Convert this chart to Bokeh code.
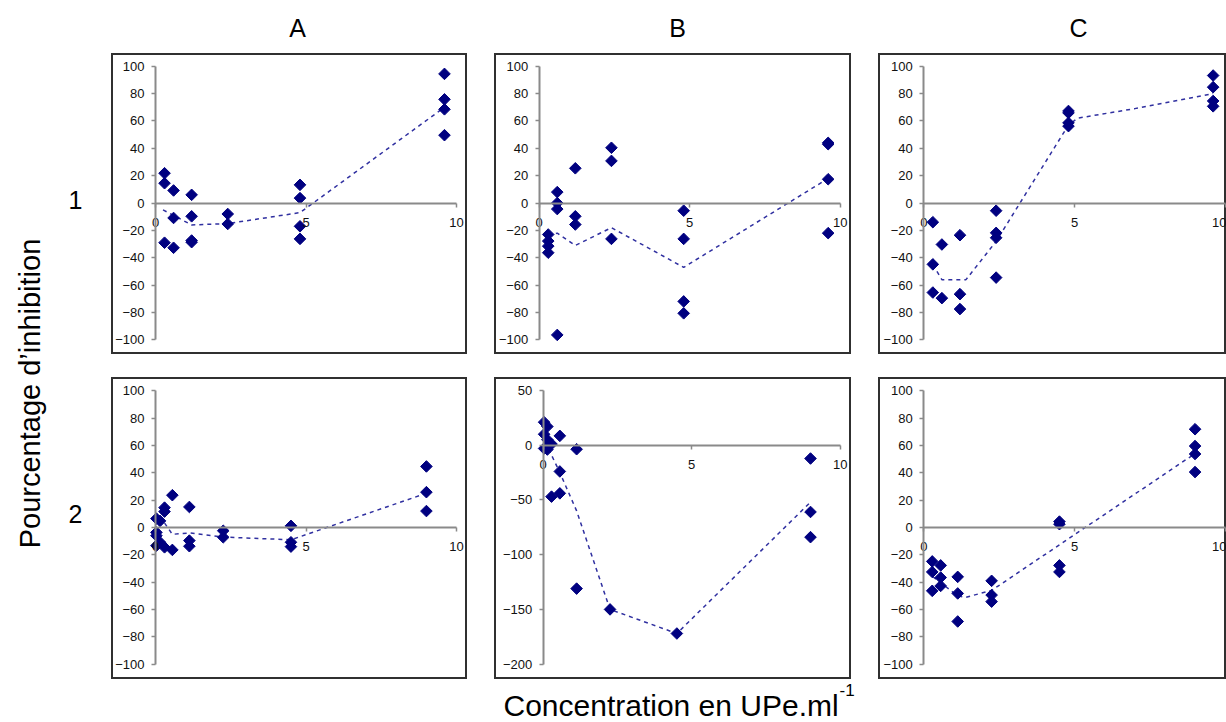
import numpy as np
from bokeh.plotting import figure
from bokeh.layouts import row, column
from bokeh.models import Range1d, FixedTicker, Label, Spacer
from bokeh.embed import file_html
from bokeh.resources import INLINE

FONT = "Liberation Sans"

# ---------------- texts / ticks ----------------
col_titles = ["A", "B", "C"]
row_titles = ["1", "2"]
y_title = "Pourcentage d\u2019inhibition"
x_title = "Concentration en UPe.ml"
x_title_sup = "-1"
x_ticks = [0, 5, 10]
y_ticks_std = [-100, -80, -60, -40, -20, 0, 20, 40, 60, 80, 100]
y_ticks_b2 = [-200, -150, -100, -50, 0, 50]

# ---------------- data ----------------
# Row 1
A1_conc = [0.3, 0.3, 0.3, 0.6, 0.6, 0.6, 1.2, 1.2, 1.2, 1.2, 2.4, 2.4,
           4.8, 4.8, 4.8, 4.8, 9.6, 9.6, 9.6, 9.6]
A1_inhib = [21.8, 14.5, -29, 9.2, -10.9, -32.7, 6, -9.7, -27.4, -28.6, -8, -15.3,
            13.3, 3.6, -17, -26.2, 94.4, 75.8, 68.5, 49.6]
A1_trend_x = [0.25, 1.2, 2.4, 4.8, 9.6]
A1_trend_y = [-5, -16, -15, -7, 70]

B1_conc = [0.3, 0.3, 0.3, 0.3, 0.6, 0.6, 0.6, 0.6, 1.2, 1.2, 1.2, 2.4, 2.4, 2.4,
           4.8, 4.8, 4.8, 4.8, 9.6, 9.6, 9.6, 9.6]
B1_inhib = [-23, -27.8, -31.5, -36.3, 8, 0, -4.4, -96.4, 25.4, -9.7, -15.7, 40.4, 30.8, -26.2,
            -5.6, -26.2, -71.9, -80.6, 44, 43, 17.4, -22]
B1_trend_x = [0.3, 0.6, 1.2, 2.4, 4.8, 9.6]
B1_trend_y = [-24, -22, -31, -18, -47, 18]

C1_conc = [0.3, 0.3, 0.3, 0.6, 0.6, 1.2, 1.2, 1.2, 2.4, 2.4, 2.4, 2.4,
           4.8, 4.8, 4.8, 4.8, 9.6, 9.6, 9.6, 9.6]
C1_inhib = [-14, -44.8, -65.4, -30.3, -69.5, -23.5, -66.6, -77.5, -5.6, -21.8, -25.4, -54.5,
            67.3, 65.9, 58.6, 56.2, 93.2, 84.7, 74.6, 70.7]
C1_trend_x = [0.3, 0.6, 1.4, 2.4, 4.8, 5.1, 7.0, 9.6]
C1_trend_y = [-45, -56, -56, -28, 57, 62, 69, 80]

# Row 2
A2_conc = [0.03, 0.03, 0.03, 0.03, 0.15, 0.15, 0.3, 0.3, 0.3, 0.56, 0.56,
           1.125, 1.125, 1.125, 2.25, 2.25, 4.5, 4.5, 4.5, 9, 9, 9]
A2_inhib = [6.5, -3.6, -6, -13.3, 4.8, -10.8, 14.5, 11.6, -14.5, 23.6, -16.4,
            15, -9.6, -13.7, -2.4, -7.2, 1.2, -10.8, -14, 44.6, 25.8, 12]
A2_trend_x = [0.15, 0.56, 1.125, 2.25, 4.5, 9]
A2_trend_y = [8, -5, -4, -7, -9, 25]

B2_conc = [0.03, 0.03, 0.03, 0.14, 0.14, 0.14, 0.28, 0.28, 0.56, 0.56, 0.56,
           1.125, 1.125, 2.25, 4.5, 9, 9, 9]
B2_inhib = [21, 10, -3, 17, 5, -4, 1, -47, 8.5, -24, -44,
            -3.7, -131, -150, -172, -12.2, -61, -84]
B2_trend_x = [0.07, 0.56, 1.125, 2.25, 4.5, 9]
B2_trend_y = [3, -25, -60, -150, -172, -52]

C2_conc = [0.28, 0.28, 0.28, 0.56, 0.56, 0.56, 1.125, 1.125, 1.125, 2.25, 2.25, 2.25,
           4.5, 4.5, 4.5, 4.5, 9, 9, 9, 9]
C2_inhib = [-24.8, -32.5, -46.3, -27.7, -36.6, -42.7, -36.1, -48.2, -68.7, -39, -49.4, -54.2,
            4.3, 2.4, -27.7, -32.5, 71.8, 59.5, 53.7, 40.5]
C2_trend_x = [0.3, 1.125, 1.4, 2.25, 9]
C2_trend_y = [-36, -50, -51, -46, 54]

MARK = "#000080"
TREND = "#3030a0"
AXIS = "#8a8a8a"
BOX = "#303030"


def panel(xs, ys, tx, ty, xr, yr, w, h, yticks, ybounds):
    p = figure(width=w, height=h, x_range=Range1d(*xr), y_range=Range1d(*yr),
               output_backend="svg", toolbar_location=None, title=None, min_border=0)
    p.grid.visible = False
    p.background_fill_color = "white"
    p.border_fill_color = "white"
    p.outline_line_color = BOX
    p.outline_line_width = 3
    p.line(tx, ty, line_color=TREND, line_width=1.5, line_dash="4 4")
    p.scatter(xs, ys, marker="square", angle=np.pi / 4, size=8.2,
              fill_color=MARK, line_color=MARK, line_width=1)
    xa = p.xaxis[0]
    ya = p.yaxis[0]
    xa.fixed_location = 0
    ya.fixed_location = 0
    xa.ticker = FixedTicker(ticks=x_ticks)
    ya.ticker = FixedTicker(ticks=yticks)
    xa.bounds = (0, 10)
    ya.bounds = ybounds
    for a in (xa, ya):
        a.axis_line_color = AXIS
        a.axis_line_width = 2
        a.major_tick_line_color = AXIS
        a.major_tick_line_width = 1.5
        a.major_tick_out = 4
        a.major_tick_in = 0
        a.minor_tick_line_color = None
        a.major_label_text_font = FONT
        a.major_label_text_font_size = "13px"
        a.major_label_text_color = "#111111"
    xa.major_label_standoff = 11
    ya.major_label_standoff = 7
    return p


def blank(w, h):
    p = figure(width=w, height=h, x_range=Range1d(0, w), y_range=Range1d(0, h),
               output_backend="svg", toolbar_location=None, title=None, min_border=0,
               x_axis_type=None, y_axis_type=None)
    p.grid.visible = False
    p.outline_line_color = None
    p.background_fill_color = "white"
    p.border_fill_color = "white"
    return p


XR_A = (-1.462, 10.365)
XR_B1 = (-1.485, 10.375)
XR_B2 = (-1.64, 10.38)
XR_C = (-1.503, 10.043)
YR_1 = (-110.7, 109.3)
YR_2 = (-111.1, 109.6)
YR_B2 = (-214.0, 61.8)

a1 = panel(A1_conc, A1_inhib, A1_trend_x, A1_trend_y, XR_A, YR_1, 356, 301, y_ticks_std, (-100, 100))
b1 = panel(B1_conc, B1_inhib, B1_trend_x, B1_trend_y, XR_B1, YR_1, 357, 301, y_ticks_std, (-100, 100))
c1 = panel(C1_conc, C1_inhib, C1_trend_x, C1_trend_y, XR_C, YR_1, 348, 301, y_ticks_std, (-100, 100))
a2 = panel(A2_conc, A2_inhib, A2_trend_x, A2_trend_y, XR_A, YR_2, 356, 302, y_ticks_std, (-100, 100))
b2 = panel(B2_conc, B2_inhib, B2_trend_x, B2_trend_y, XR_B2, YR_B2, 357, 302, y_ticks_b2, (-200, 50))
c2 = panel(C2_conc, C2_inhib, C2_trend_x, C2_trend_y, XR_C, YR_2, 348, 302, y_ticks_std, (-100, 100))

# top strip with column titles
top = blank(1226, 53)
for t, cx in zip(col_titles, [297, 677, 1078]):
    top.add_layout(Label(x=cx, y=26, text=t, text_font=FONT, text_font_size="25px",
                         text_align="center", text_baseline="middle", text_color="#000000"))

# left strip with row titles and y title
left = blank(111, 626)
for t, cy in zip(row_titles, [480, 166]):
    left.add_layout(Label(x=75, y=cy, text=t, text_font=FONT, text_font_size="25px",
                          text_align="center", text_baseline="middle", text_color="#000000"))
left.add_layout(Label(x=29, y=286, text=y_title, angle=np.pi / 2, text_font=FONT,
                      text_font_size="29px", text_align="center", text_baseline="middle",
                      text_color="#000000"))

# bottom strip with x title
bottom = blank(1226, 43)
bottom.add_layout(Label(x=503, y=17, text=x_title, text_font=FONT, text_font_size="30px",
                        text_align="left", text_baseline="middle", text_color="#000000"))
bottom.add_layout(Label(x=839, y=33, text=x_title_sup, text_font=FONT, text_font_size="17px",
                        text_align="left", text_baseline="middle", text_color="#000000"))

row1 = row(a1, Spacer(width=27, height=301), b1, Spacer(width=27, height=301), c1)
row2 = row(a2, Spacer(width=27, height=302), b2, Spacer(width=27, height=302), c2)
grid = column(row1, Spacer(width=1115, height=23), row2)
layout = column(top, row(left, grid), bottom)

open("out.html", "w").write(file_html(layout, INLINE))
